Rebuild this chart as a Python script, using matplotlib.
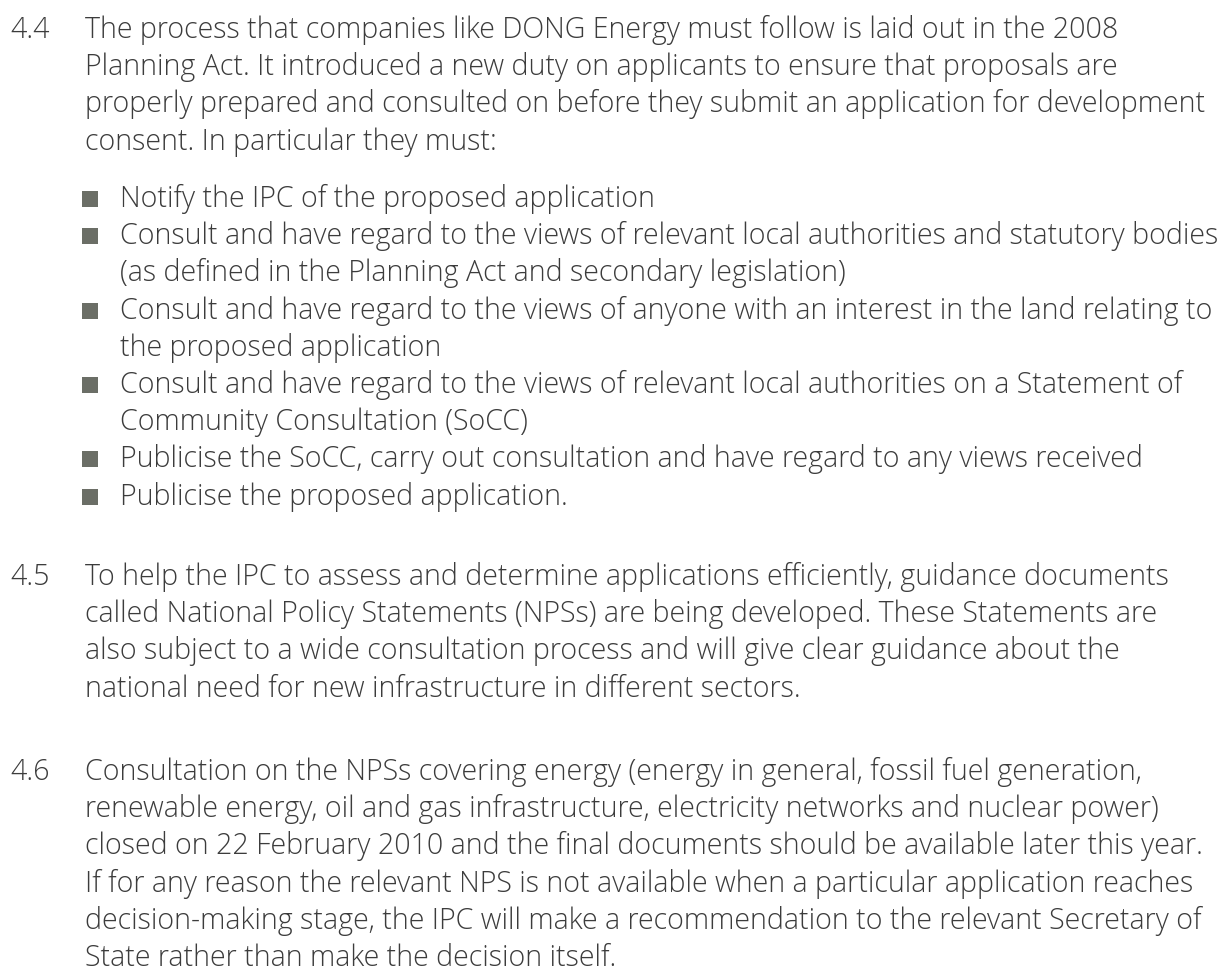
import matplotlib
matplotlib.use("Agg")
from matplotlib import pyplot as plt

# paragraph numbers and their wrapped lines
numbers = ["4.4", "4.5", "4.6"]
para_44 = [
    "The process that companies like DONG Energy must follow is laid out in the 2008",
    "Planning Act. It introduced a new duty on applicants to ensure that proposals are",
    "properly prepared and consulted on before they submit an application for development",
    "consent. In particular they must:",
]
bullets = [
    ["Notify the IPC of the proposed application"],
    ["Consult and have regard to the views of relevant local authorities and statutory bodies",
     "(as defined in the Planning Act and secondary legislation)"],
    ["Consult and have regard to the views of anyone with an interest in the land relating to",
     "the proposed application"],
    ["Consult and have regard to the views of relevant local authorities on a Statement of",
     "Community Consultation (SoCC)"],
    ["Publicise the SoCC, carry out consultation and have regard to any views received"],
    ["Publicise the proposed application."],
]
para_45 = [
    "To help the IPC to assess and determine applications efficiently, guidance documents",
    "called National Policy Statements (NPSs) are being developed. These Statements are",
    "also subject to a wide consultation process and will give clear guidance about the",
    "national need for new infrastructure in different sectors.",
]
para_46 = [
    "Consultation on the NPSs covering energy (energy in general, fossil fuel generation,",
    "renewable energy, oil and gas infrastructure, electricity networks and nuclear power)",
    "closed on 22 February 2010 and the final documents should be available later this year.",
    "If for any reason the relevant NPS is not available when a particular application reaches",
    "decision-making stage, the IPC will make a recommendation to the relevant Secretary of",
    "State rather than make the decision itself.",
]

text_col = "#3c3c3c"
bullet_col = "#6b6e66"
fs = 20.6
lh = 37.2  # line pitch in px

fig = plt.figure(figsize=(12.28, 9.75), dpi=100)
ax = fig.add_axes([0, 0, 1, 1])
ax.set_xlim(0, 1228)
ax.set_ylim(975, 0)
ax.axis("off")

def put(x, y, s):
    ax.text(x, y, s, fontsize=fs, color=text_col, family=["Open Sans", "DejaVu Sans"],
            fontweight="light", va="baseline", ha="left")

def para(num, lines, y0):
    put(10, y0, num)
    for i, line in enumerate(lines):
        put(85, y0 + i * lh, line)

para(numbers[0], para_44, 38)

# bullets
y = 207
for item in bullets:
    ax.scatter([90], [y - 8], marker="s", s=133, color=bullet_col, linewidths=0)
    for line in item:
        put(120, y, line)
        y += lh

para(numbers[1], para_45, 585)
para(numbers[2], para_46, 780)

fig.savefig("out.png", dpi=100)
